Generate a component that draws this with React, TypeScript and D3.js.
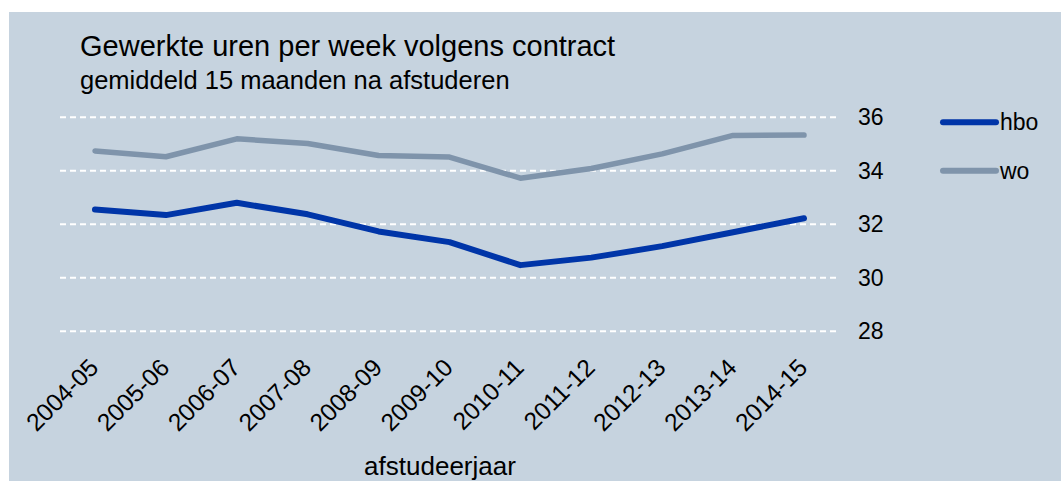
import React from "react";
import * as d3 from "d3";

const categories = ["2004-05","2005-06","2006-07","2007-08","2008-09","2009-10","2010-11","2011-12","2012-13","2013-14","2014-15"];
const hbo = [32.55, 32.34, 32.80, 32.37, 31.73, 31.33, 30.47, 30.75, 31.18, 31.70, 32.22];
const wo = [34.74, 34.52, 35.19, 35.02, 34.57, 34.51, 33.72, 34.08, 34.63, 35.32, 35.33];
const yTicks = [28, 30, 32, 34, 36];
const seriesNames = ["hbo", "wo"];
const seriesColors = ["#0035a8", "#7f94ab"];

const W = 1061, H = 481;
const FONT = "'Liberation Sans', Arial, Helvetica, sans-serif";

export default function App() {
  const x = d3.scalePoint<string>().domain(categories).range([95, 804]);
  const y = d3.scaleLinear().domain([28, 36]).range([331.2, 117.2]);
  const line = d3.line<number>().x((_, i) => x(categories[i])!).y(d => y(d)).curve(d3.curveLinear);
  const series = [hbo, wo];
  const widths = [6, 5.5];

  return (
    <div style={{ position: "absolute", left: 0, top: 0 }}>
      <svg width={W} height={H} style={{ display: "block" }} fontFamily={FONT}>
        <rect x={9} y={12} width={W - 9} height={H - 12} fill="#c6d3df" />
        <text x={80} y={56} fontSize={29} fill="#000">Gewerkte uren per week volgens contract</text>
        <text x={80} y={89} fontSize={25.5} fill="#000">gemiddeld 15 maanden na afstuderen</text>
        {yTicks.map(t => (
          <g key={t}>
            <line x1={60} x2={837} y1={y(t)} y2={y(t)} stroke="#ffffff" strokeWidth={2} strokeDasharray="6,4" />
            <text x={858} y={y(t)} dy="0.36em" fontSize={23} fill="#000">{t}</text>
          </g>
        ))}
        {series.map((s, i) => (
          <path key={i} d={line(s) || ""} fill="none" stroke={seriesColors[i]} strokeWidth={widths[i]} strokeLinecap="round" strokeLinejoin="round" />
        ))}
        {categories.map(c => (
          <text key={c} transform={`translate(${x(c)! + 5},369) rotate(-45)`} textAnchor="end" fontSize={24.5} fill="#000">{c}</text>
        ))}
        <text x={440} y={475} textAnchor="middle" fontSize={26} fill="#000">afstudeerjaar</text>
        {seriesNames.map((n, i) => (
          <g key={n}>
            <line x1={943} x2={996} y1={y(36) + 5 + i * 48.5} y2={y(36) + 5 + i * 48.5} stroke={seriesColors[i]} strokeWidth={6} strokeLinecap="round" />
            <text x={1000} y={y(36) + 5 + i * 48.5} dy="0.36em" fontSize={23} fill="#000">{n}</text>
          </g>
        ))}
      </svg>
    </div>
  );
}
